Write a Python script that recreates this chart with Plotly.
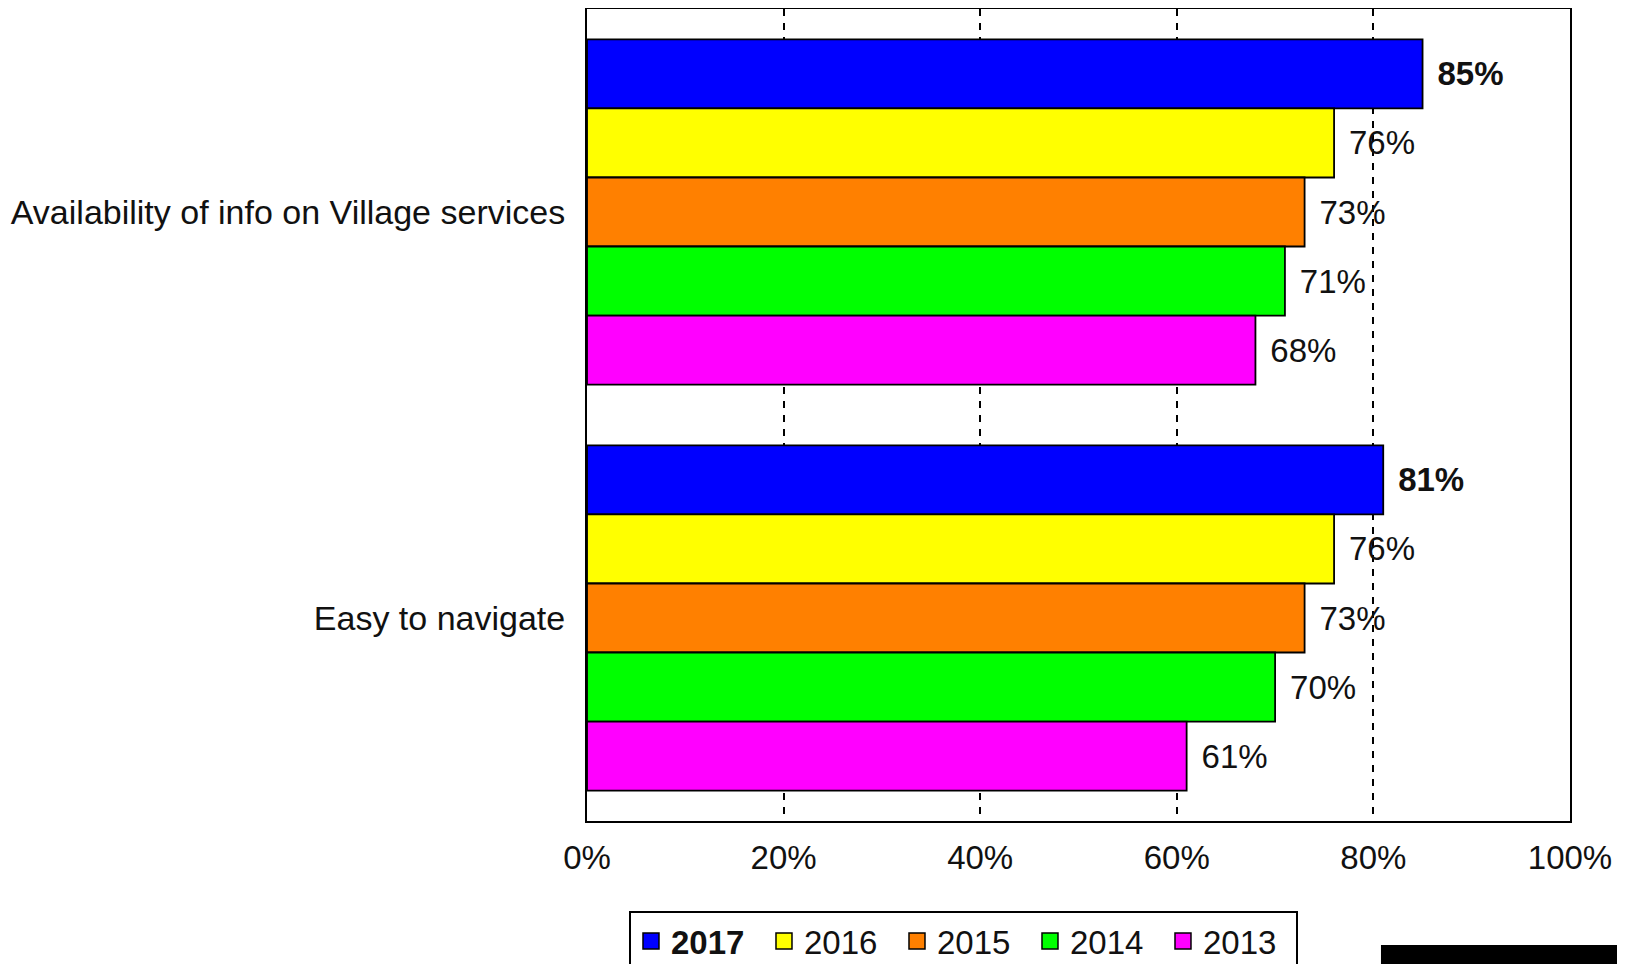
import plotly.graph_objects as go

categories = ["Availability of info on Village services", "Easy to navigate"]
years = ["2017", "2016", "2015", "2014", "2013"]
values = {
    "2017": [85, 81],
    "2016": [76, 76],
    "2015": [73, 73],
    "2014": [71, 70],
    "2013": [68, 61],
}
colors = {
    "2017": "#0000FF",
    "2016": "#FFFF00",
    "2015": "#FF8000",
    "2014": "#00FF00",
    "2013": "#FF00FF",
}
x_ticks = [0, 20, 40, 60, 80, 100]
x_tick_labels = ["0%", "20%", "40%", "60%", "80%", "100%"]

FONT = "Liberation Sans, Arial, sans-serif"
TXT = "#111111"
FS = 33

fig = go.Figure()
for yr in years:
    bold = yr == "2017"
    fig.add_trace(go.Bar(
        y=categories,
        x=values[yr],
        orientation="h",
        name=yr,
        showlegend=False,
        marker=dict(color=colors[yr], line=dict(color="black", width=1.8)),
        texttemplate=("\u00a0\u200a<b>%{x}%</b>" if bold else "\u00a0\u200a%{x}%"),
        textposition="outside",
        textfont=dict(family=FONT, size=FS, color=TXT),
        constraintext="none",
        cliponaxis=False,
    ))

# legend entries (square swatches)
for yr in years:
    bold = yr == "2017"
    fig.add_trace(go.Scatter(
        x=[None], y=[categories[0]],
        mode="markers",
        name=f"<b>{yr}</b>" if bold else yr,
        marker=dict(symbol="square", size=20, color=colors[yr],
                    line=dict(color="black", width=1.5)),
        showlegend=True,
        hoverinfo="skip",
    ))

fig.update_layout(
    width=1625,
    height=964,
    margin=dict(l=579, r=63, t=1, b=151, autoexpand=False),
    paper_bgcolor="white",
    plot_bgcolor="white",
    barmode="group",
    bargap=0.15,
    bargroupgap=0,
    font=dict(family=FONT, size=FS, color=TXT),
    showlegend=True,
    legend=dict(
        orientation="h",
        x=0.383, xanchor="center",
        y=-0.111, yanchor="top",
        bordercolor="black", borderwidth=2,
        font=dict(family=FONT, size=FS, color=TXT),
        traceorder="normal",
        itemwidth=30,
        entrywidth=88,
        tracegroupgap=0,
    ),
    xaxis=dict(
        range=[0, 100],
        tickvals=x_ticks,
        ticktext=x_tick_labels,
        showgrid=True,
        gridcolor="black",
        gridwidth=2,
        griddash="7px,7px",
        showline=True,
        linecolor="black",
        linewidth=2,
        mirror=True,
        zeroline=False,
        ticks="",
        ticklabelstandoff=6,
        tickfont=dict(family=FONT, size=FS, color=TXT),
    ),
    yaxis=dict(
        autorange="reversed",
        showgrid=False,
        showline=True,
        linecolor="black",
        linewidth=2,
        mirror=True,
        ticks="",
        ticklabelstandoff=13,
        tickfont=dict(family=FONT, size=34, color=TXT),
    ),
    shapes=[dict(
        type="rect", xref="paper", yref="paper",
        x0=0.8077, x1=1.08, y0=-0.1527, y1=-0.22,
        fillcolor="black", line=dict(color="black", width=0),
        layer="above",
    )],
)

fig.write_html("out.html")
